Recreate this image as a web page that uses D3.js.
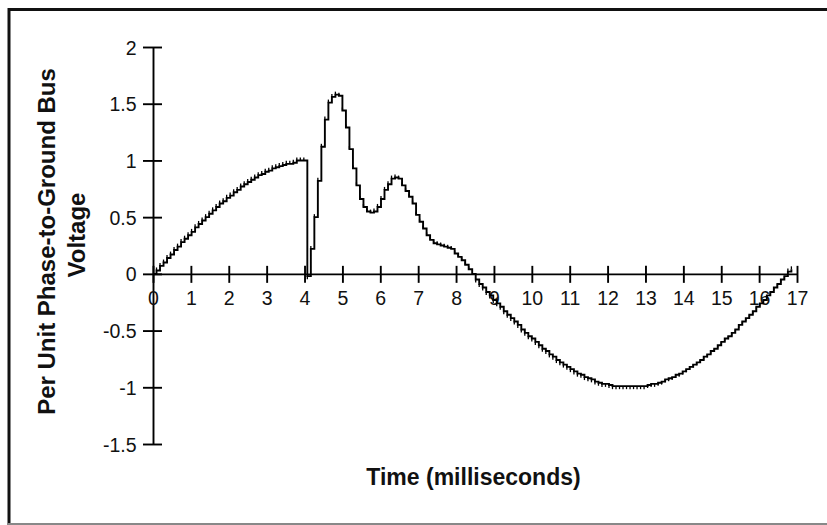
<!DOCTYPE html>
<html>
<head>
<meta charset="utf-8">
<script src="https://cdn.jsdelivr.net/npm/d3@7"></script>
<style>
  html, body { margin: 0; padding: 0; background: #fff; }
  svg { display: block; }
  text { font-family: "Liberation Sans", Arial, sans-serif; fill: #111; }
</style>
</head>
<body>
<svg id="chart" width="827" height="525"></svg>
<script>
// Time axis ticks (milliseconds) and voltage axis ticks (per unit)
const timeTicks = [0, 1, 2, 3, 4, 5, 6, 7, 8, 9, 10, 11, 12, 13, 14, 15, 16, 17];
const voltageTicks = [2, 1.5, 1, 0.5, 0, -0.5, -1, -1.5];

// One sample every 1/180 of a 60 Hz cycle
const sampleStepMs = 1000 / (60 * 180);

// Phase-to-ground bus voltage, per unit, one value per sample
const busVoltagePu = [
  0, 0.03, 0.07, 0.1, 0.14, 0.17, 0.21, 0.24, 0.28, 0.31,
  0.34, 0.37, 0.41, 0.44, 0.47, 0.5, 0.53, 0.56, 0.59, 0.62,
  0.64, 0.67, 0.69, 0.72, 0.74, 0.77, 0.79, 0.81, 0.83, 0.85,
  0.87, 0.88, 0.9, 0.91, 0.93, 0.94, 0.95, 0.96, 0.97, 0.97,
  0.98, 1.0, 1.0, 1.0, -0.02, 0.22, 0.5, 0.82, 1.12, 1.36,
  1.51, 1.56, 1.58, 1.57, 1.44, 1.29, 1.1, 0.93, 0.78, 0.66,
  0.59, 0.55, 0.54, 0.55, 0.59, 0.66, 0.74, 0.79, 0.84, 0.85,
  0.84, 0.78, 0.73, 0.68, 0.62, 0.52, 0.46, 0.4, 0.34, 0.3,
  0.27, 0.26, 0.25, 0.24, 0.23, 0.22, 0.18, 0.15, 0.12, 0.08,
  0.04, 0.0, -0.05, -0.09, -0.12, -0.16, -0.19, -0.23, -0.26, -0.29,
  -0.33, -0.36, -0.39, -0.42, -0.45, -0.49, -0.52, -0.55, -0.57, -0.6,
  -0.63, -0.66, -0.68, -0.71, -0.73, -0.76, -0.78, -0.8, -0.82, -0.84,
  -0.86, -0.88, -0.89, -0.91, -0.92, -0.93, -0.95, -0.96, -0.97, -0.97,
  -0.98, -0.99, -0.99, -0.99, -0.99, -0.99, -0.99, -0.99, -0.99, -0.99,
  -0.99, -0.98, -0.97, -0.97, -0.96, -0.95, -0.93, -0.92, -0.91, -0.89,
  -0.88, -0.86, -0.84, -0.82, -0.8, -0.78, -0.76, -0.73, -0.71, -0.68,
  -0.66, -0.63, -0.6, -0.57, -0.55, -0.52, -0.49, -0.45, -0.42, -0.39,
  -0.36, -0.33, -0.29, -0.26, -0.23, -0.19, -0.16, -0.12, -0.09, -0.05,
  -0.02, 0.02, 0.04
];

const xTitle = "Time (milliseconds)";
const yTitleLines = ["Per Unit Phase-to-Ground Bus", "Voltage"];

const samples = busVoltagePu.map((v, i) => ({ t: i * sampleStepMs, v }));

const svg = d3.select("#chart");

// Outer frame
svg.append("line").attr("x1", 9).attr("y1", 9.5).attr("x2", 830).attr("y2", 9.5)
  .attr("stroke", "#111").attr("stroke-width", 3);
svg.append("line").attr("x1", 9).attr("y1", 8).attr("x2", 9).attr("y2", 525)
  .attr("stroke", "#111").attr("stroke-width", 3);
svg.append("line").attr("x1", 8).attr("y1", 524).attr("x2", 830).attr("y2", 524)
  .attr("stroke", "#888").attr("stroke-width", 2);

const x = d3.scaleLinear().domain([0, 17]).range([153, 797]);
const y = d3.scaleLinear().domain([-1.5, 2]).range([444, 47]);

// Vertical (voltage) axis at t = 0, ticks crossing the axis line
const yAxis = svg.append("g")
  .attr("transform", `translate(${x(0)},0)`)
  .call(d3.axisLeft(y).tickValues(voltageTicks).tickFormat(d => String(d))
    .tickSizeInner(10).tickSizeOuter(0).tickPadding(6.5));
yAxis.selectAll(".tick line").attr("x1", 9).attr("x2", -10);
yAxis.selectAll(".tick text").attr("dy", "0.36em").style("font-size", "19.5px");

// Horizontal (time) axis at 0 pu, ticks crossing the axis line
const xAxis = svg.append("g")
  .attr("transform", `translate(0,${y(0)})`)
  .call(d3.axisBottom(x).tickValues(timeTicks).tickFormat(d => String(d))
    .tickSizeInner(9).tickSizeOuter(0).tickPadding(8));
xAxis.selectAll(".tick line").attr("y1", -8).attr("y2", 9);
xAxis.selectAll(".tick text").style("font-size", "19.5px");

svg.selectAll(".domain, .tick line").attr("stroke", "#000").attr("stroke-width", 1.9);
svg.selectAll(".tick text").attr("fill", "#111").style("font-family", "'Liberation Sans', Arial, sans-serif");

// Stepped voltage trace
const line = d3.line().x(d => x(d.t)).y(d => y(d.v)).curve(d3.curveStepAfter);
svg.append("path").datum(samples)
  .attr("d", line)
  .attr("fill", "none").attr("stroke", "#000").attr("stroke-width", 1.9)
  .attr("stroke-linejoin", "miter");

// Small sample markers pointing away from zero
svg.append("g").selectAll("line").data(samples.filter(d => d.v !== 0))
  .join("line")
  .attr("x1", d => x(d.t)).attr("x2", d => x(d.t))
  .attr("y1", d => y(d.v))
  .attr("y2", d => y(d.v) - Math.sign(d.v) * 3)
  .attr("stroke", "#000").attr("stroke-width", 1.3);

// Axis titles
svg.append("text")
  .attr("x", 473.5).attr("y", 485)
  .attr("text-anchor", "middle")
  .style("font-size", "23px").style("font-weight", "bold")
  .text(xTitle);

const yTitle = svg.append("text")
  .attr("transform", "rotate(-90)")
  .attr("text-anchor", "middle")
  .style("font-size", "24px").style("font-weight", "bold");
yTitle.append("tspan").attr("x", -241.5).attr("y", 55).text(yTitleLines[0]);
yTitle.append("tspan").attr("x", -235).attr("y", 85).text(yTitleLines[1]);
</script>
</body>
</html>
